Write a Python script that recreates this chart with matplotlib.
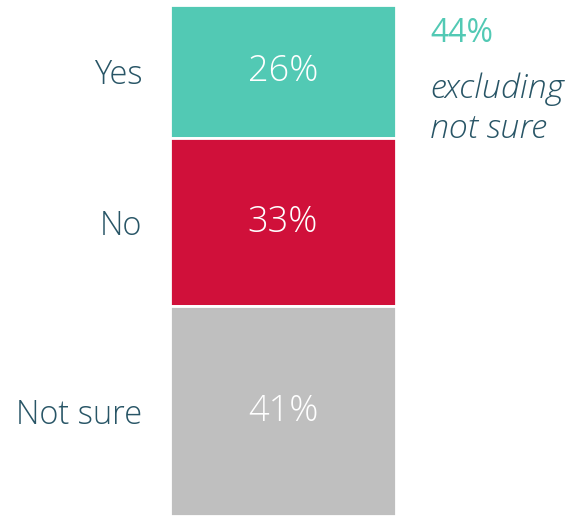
import matplotlib.pyplot as plt

categories = ['Yes', 'No', 'Not sure']
values = [26, 33, 41]
colors = ['#52C9B4', '#D0103A', '#BFBFBF']
note_value = '44%'
note_text = 'excluding\nnot sure'

plt.rcParams['font.family'] = ['Open Sans', 'DejaVu Sans']
text_color = '#285566'

fig = plt.figure(figsize=(5.7, 5.16), dpi=100)
ax = fig.add_axes([170 / 570, 0, 226 / 570, 511 / 516])

bottom = 0
centers = []
for cat, val, col in zip(categories, values, colors):
    ax.bar(0, val, bottom=bottom, width=1, color=col, edgecolor='white', linewidth=2)
    mid = bottom + val / 2
    centers.append(mid)
    ax.text(0, mid, f'{val}%', ha='center', va='center', color='white',
            fontsize=26, fontweight='light')
    bottom += val

ax.set_xlim(-0.5, 0.5)
ax.set_ylim(100, 0)
ax.set_yticks(centers)
ax.set_yticklabels(categories, fontsize=23.5, fontweight='light', color=text_color)
ax.tick_params(axis='y', length=0, pad=20)
ax.set_xticks([])
for s in ax.spines.values():
    s.set_visible(False)

fig.text(430 / 570, 1 - 33 / 516, note_value, color=colors[0], fontsize=23,
         ha='left', va='center')
fig.text(430 / 570, 1 - 109 / 516, note_text, color=text_color, fontsize=24.5,
         style='italic', fontweight='light', ha='left', va='center', linespacing=1.25)

fig.savefig('out.png', dpi=100)
